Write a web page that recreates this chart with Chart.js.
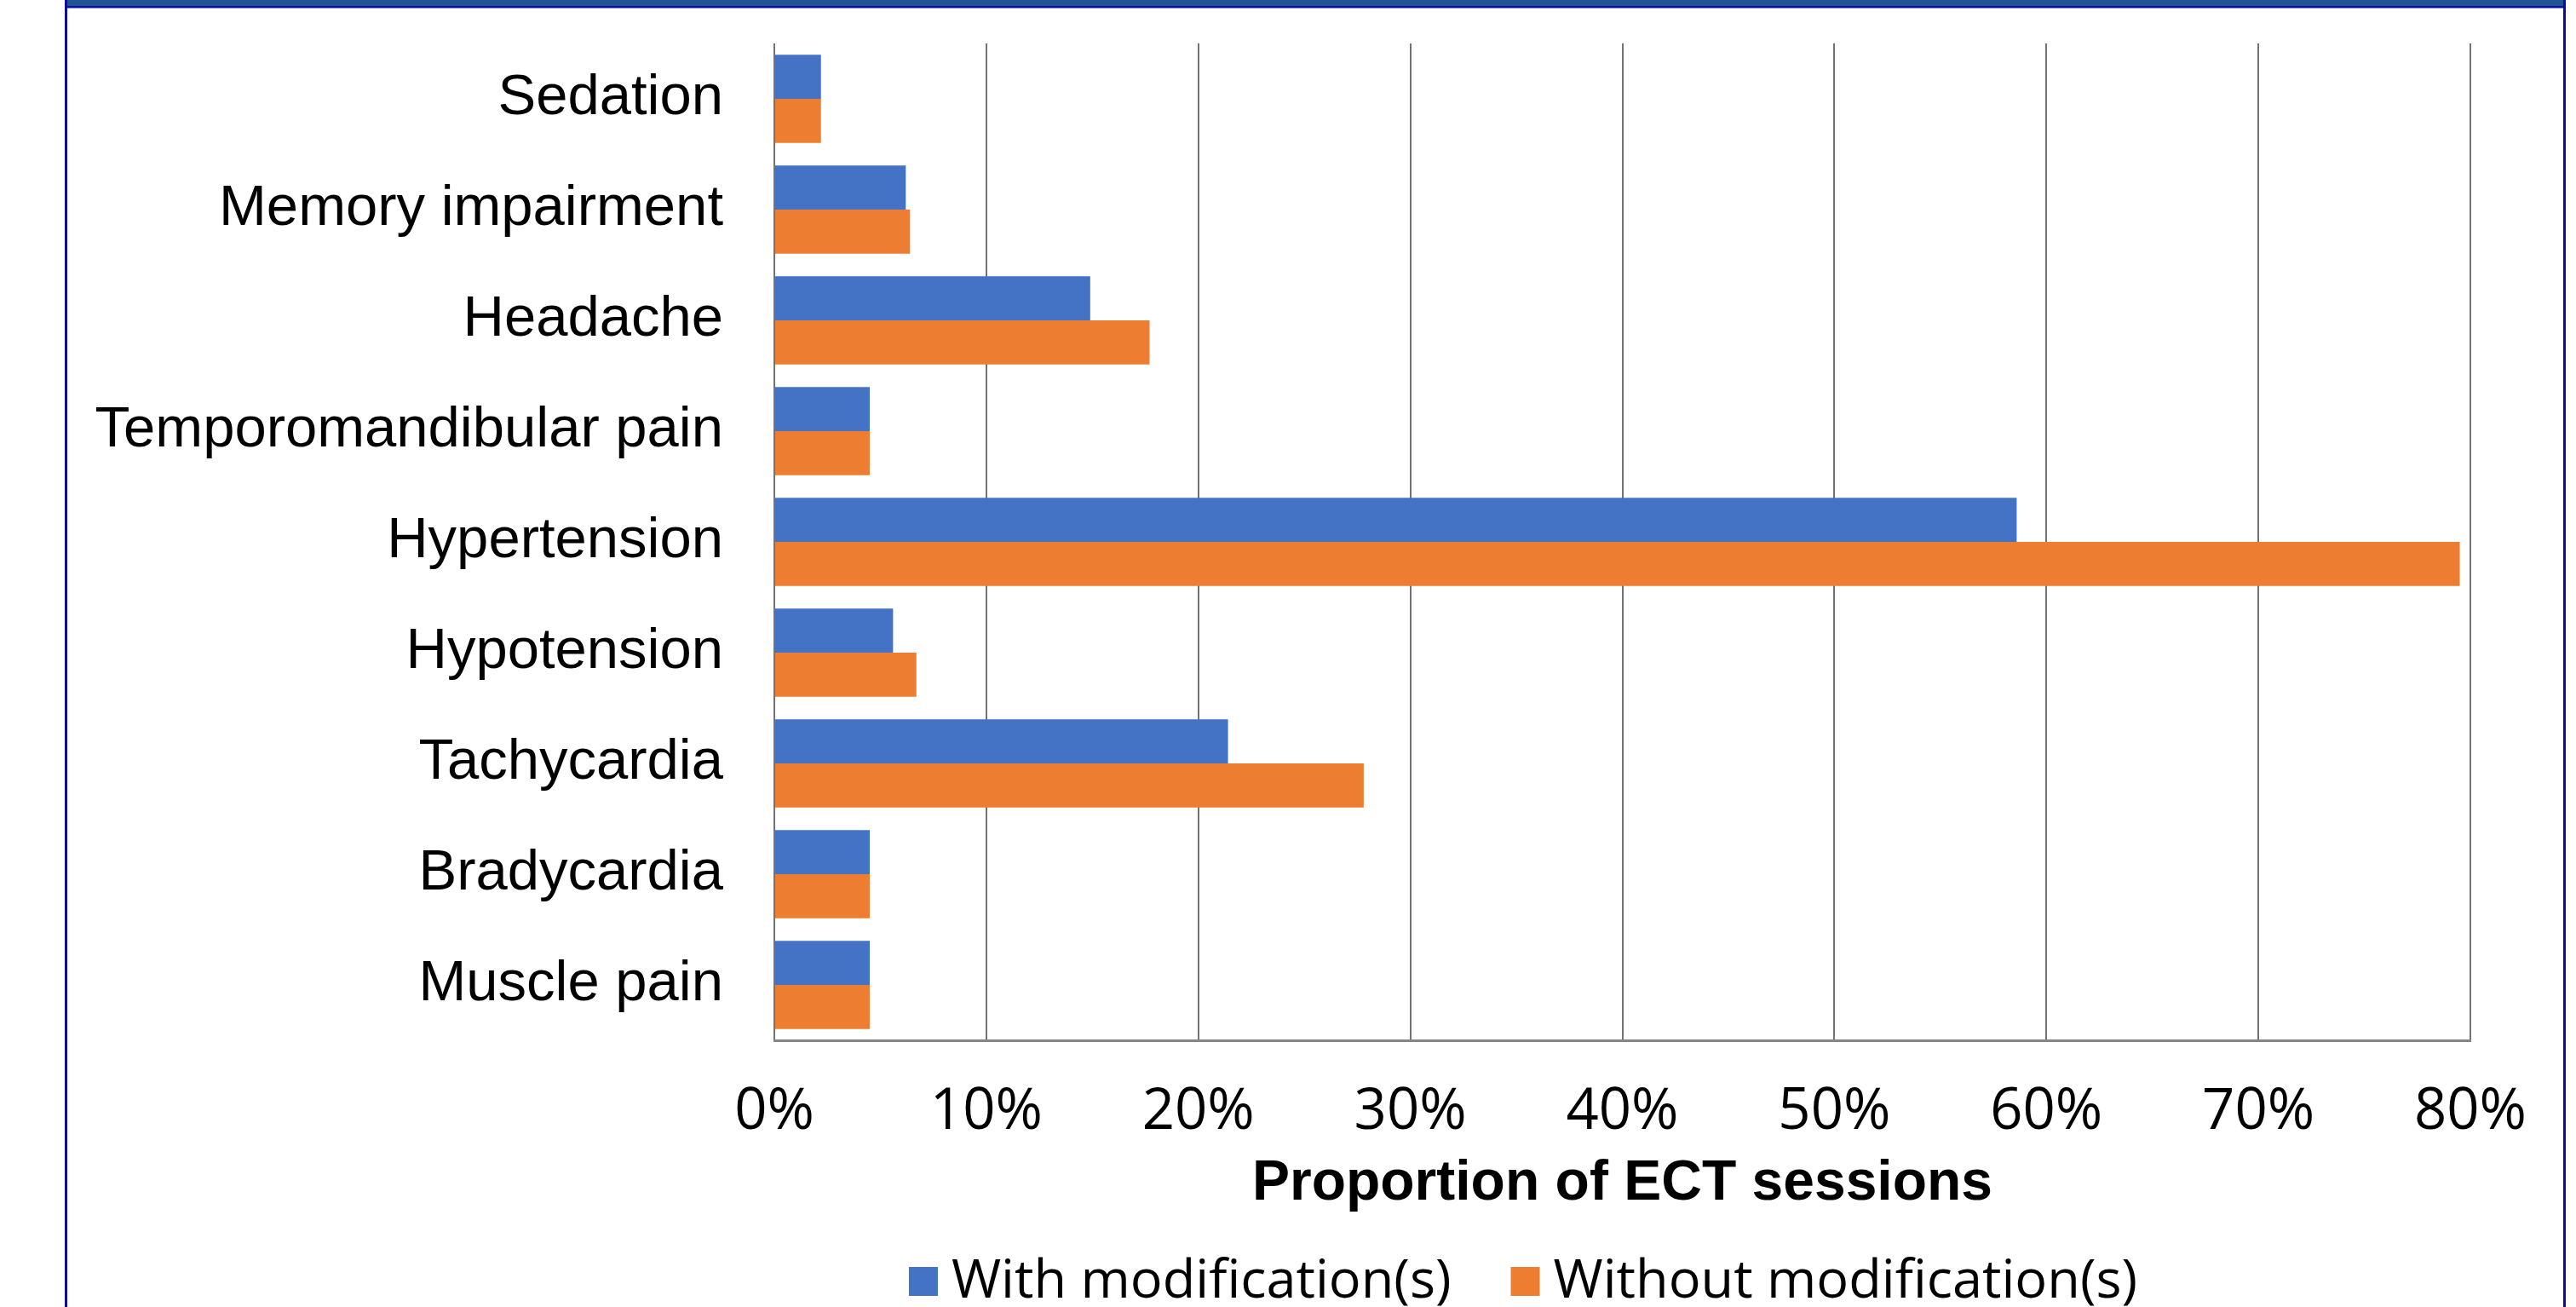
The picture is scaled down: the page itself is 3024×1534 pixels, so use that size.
<!DOCTYPE html>
<html>
<head>
<meta charset="utf-8">
<script src="https://cdn.jsdelivr.net/npm/chart.js@4.4.1/dist/chart.umd.min.js"></script>
<style>
  html, body { margin: 0; padding: 0; background: #fff; overflow: hidden; }
  #wrap { position: absolute; left: 0; top: 0; width: 3024px; height: 1534px; }
  #chart { position: absolute; left: 0; top: 0; }
  #frame {
    position: absolute; left: 76px; top: 0; width: 2930px; height: 1600px;
    border-left: 3px solid #0c0ca0; border-right: 3px solid #0c0ca0;
    pointer-events: none;
  }
  #band {
    position: absolute; left: 0; right: 0; top: 0; height: 7px;
    background: #215592; border-bottom: 2px solid #0c0ca0;
    box-shadow: 0 1px 0 #8a8ad8;
  }
</style>
</head>
<body>
<div id="wrap">
  <canvas id="chart" width="3024" height="1534"></canvas>
  <div id="frame"><div id="band"></div></div>
</div>
<script>
// Adverse events per ECT session, grouped by whether the session was modified
const categories = [
  'Sedation',
  'Memory impairment',
  'Headache',
  'Temporomandibular pain',
  'Hypertension',
  'Hypotension',
  'Tachycardia',
  'Bradycardia',
  'Muscle pain'
];
const withModification    = [2.2, 6.2, 14.9, 4.5, 58.6, 5.6, 21.4, 4.5, 4.5];
const withoutModification = [2.2, 6.4, 17.7, 4.5, 79.5, 6.7, 27.8, 4.5, 4.5];
const seriesNames = ['With modification(s)', 'Without modification(s)'];
const seriesColors = ['#4472C4', '#ED7D31'];
const xTickValues = [0, 10, 20, 30, 40, 50, 60, 70, 80];
const xAxisTitle = 'Proportion of ECT sessions';

// Legend row under the axis title: square swatch followed by its label
const bottomLegend = {
  id: 'bottomLegend',
  afterDraw(chart) {
    const ctx = chart.ctx;
    const box = 34, gap = 16, itemGap = 70;
    const centerX = 1788, boxTop = 1487, baseline = 1523;
    ctx.save();
    ctx.font = '63px "Open Sans"';
    ctx.textBaseline = 'alphabetic';
    ctx.textAlign = 'left';
    const items = chart.data.datasets.map(ds => ({
      text: ds.label, color: ds.backgroundColor, w: ctx.measureText(ds.label).width
    }));
    const total = items.reduce((s, it) => s + box + gap + it.w, 0) + itemGap * (items.length - 1);
    let x = centerX - total / 2;
    items.forEach(it => {
      ctx.fillStyle = it.color;
      ctx.fillRect(x, boxTop, box, box);
      x += box + gap;
      ctx.fillStyle = '#000';
      ctx.fillText(it.text, x, baseline);
      x += it.w + itemGap;
    });
    ctx.restore();
  }
};

new Chart(document.getElementById('chart'), {
  type: 'bar',
  data: {
    labels: categories,
    datasets: [
      { label: seriesNames[0], data: withModification, backgroundColor: seriesColors[0],
        categoryPercentage: 0.795, barPercentage: 1, borderWidth: 0 },
      { label: seriesNames[1], data: withoutModification, backgroundColor: seriesColors[1],
        categoryPercentage: 0.795, barPercentage: 1, borderWidth: 0 }
    ]
  },
  options: {
    indexAxis: 'y',
    responsive: false,
    animation: false,
    devicePixelRatio: 1,
    layout: { padding: { left: 0, right: 124, top: 51, bottom: 0 } },
    plugins: { legend: { display: false }, tooltip: { enabled: false } },
    scales: {
      x: {
        min: 0, max: 80,
        afterBuildTicks: s => { s.ticks = xTickValues.map(v => ({ value: v })); },
        ticks: {
          callback: v => v + '%',
          font: { family: '"Open Sans"', size: 67 },
          color: '#000', padding: 45, maxRotation: 0, autoSkip: false
        },
        grid: { color: '#737373', lineWidth: 2, drawTicks: false },
        border: { color: '#858585', width: 3 },
        title: {
          display: true, text: xAxisTitle, color: '#000',
          font: { family: '"Liberation Sans"', size: 66, weight: 'bold' },
          padding: { top: 0, bottom: 105 }
        },
        afterFit: s => { s.height = 313; s.paddingLeft = 0; s.paddingRight = 0; }
      },
      y: {
        ticks: {
          font: { family: '"Liberation Sans"', size: 67 },
          color: '#000', padding: 60, autoSkip: false
        },
        grid: { display: false, drawTicks: false },
        border: { display: false },
        afterFit: s => { s.width = 909; s.paddingTop = 0; s.paddingBottom = 0; }
      }
    }
  },
  plugins: [bottomLegend]
});
</script>
</body>
</html>
